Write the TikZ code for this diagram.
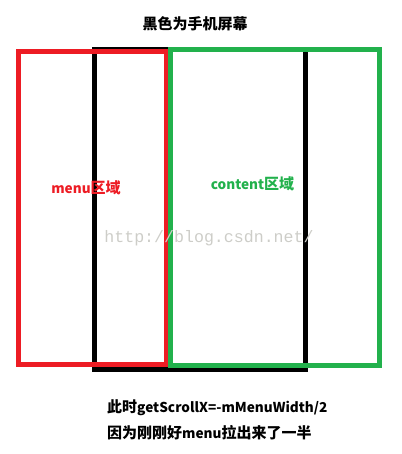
\documentclass[tikz,border=0pt]{standalone}
\usepackage{fontspec}
\newfontfamily\cjk{Noto Sans CJK SC}
\newfontfamily\wmfont{Liberation Mono}
\usetikzlibrary{positioning}

\definecolor{paintred}{RGB}{237,28,36}
\definecolor{paintgreen}{RGB}{34,177,76}
\definecolor{markgray}{RGB}{205,205,200}

\newcommand{\lat}[1]{{\fontsize{13.6}{16}\selectfont #1}}

\tikzset{
  frame/.style={line width=5pt},
  lbl/.style={font=\cjk\bfseries\fontsize{15}{17}\selectfont, inner sep=0pt},
}

\begin{document}
\begin{tikzpicture}[x=1pt, y=-1pt]
  \useasboundingbox (0,0) rectangle (401,454);

  % Draw the screen and the two areas
  \draw[frame, black] (94.5,49.5) rectangle (305.5,369.5);
  \draw[frame, paintred] (18.5,51.5) rectangle (166.5,364.5);
  \draw[frame, paintgreen] (170.5,49.5) rectangle (379.5,365);

  % Titles
  \node (title) at (195,24) [lbl] {黑色为手机屏幕};
  \node (menu) at (86,188) [lbl, text=paintred] {\lat{menu}区域};
  \node (content) at (252.5,184) [lbl, text=paintgreen] {\lat{content}区域};
  \node (mark) at (209,238) [inner sep=0pt, text=markgray, font=\wmfont\fontsize{16.6}{18}\selectfont] {http://blog.csdn.net/};

  % Notes below
  \node (note1) at (107,408) [lbl, anchor=west] {此时\lat{getScrollX=-mMenuWidth/2}};
  \node (note2) at (107,433) [lbl, anchor=west] {因为刚刚好\lat{menu}拉出来了一半};
\end{tikzpicture}
\end{document}
